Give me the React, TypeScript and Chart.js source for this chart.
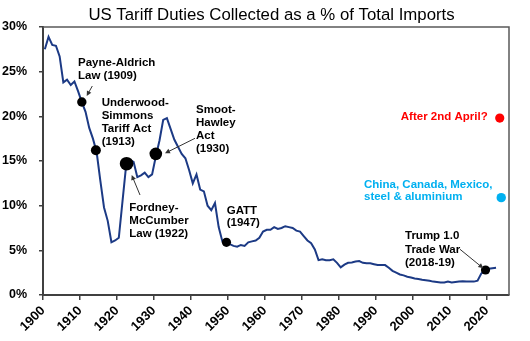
import React, { useEffect, useRef } from 'react';
import { Chart, registerables } from 'chart.js';

Chart.register(...registerables);

const FONT = '"Liberation Sans", Arial, Helvetica, sans-serif';

// ---- data ----
const startYear = 1900;
const tariffPct = [
  27.5, 28.9, 28.0, 27.9, 26.7, 23.8, 24.1, 23.5, 23.9, 22.8,
  21.6, 20.5, 18.7, 17.5, 16.0, 12.8, 9.8, 8.3, 5.9, 6.1,
  6.4, 10.5, 14.6, 15.1, 14.9, 13.2, 13.4, 13.7, 13.2, 13.5,
  15.5, 17.3, 19.6, 19.8, 18.6, 17.4, 16.6, 15.8, 15.3, 14.0,
  12.5, 13.5, 11.8, 11.6, 10.0, 9.5, 10.3, 7.6, 6.0, 5.8,
  5.7, 5.5, 5.4, 5.6, 5.5, 5.9, 6.0, 6.1, 6.4, 7.1,
  7.3, 7.3, 7.6, 7.4, 7.5, 7.7, 7.6, 7.5, 7.2, 7.1,
  6.6, 6.1, 5.8, 5.1, 3.9, 4.0, 3.9, 3.9, 4.0, 3.6,
  3.1, 3.4, 3.6, 3.65, 3.75, 3.8, 3.6, 3.55, 3.55, 3.45,
  3.35, 3.35, 3.35, 3.05, 2.7, 2.5, 2.3, 2.2, 2.05, 1.95,
  1.85, 1.8, 1.7, 1.65, 1.6, 1.5, 1.45, 1.4, 1.4, 1.5,
  1.4, 1.45, 1.5, 1.55, 1.5, 1.5, 1.5, 1.6, 2.4, 2.8,
  2.95, 3.0, 3.05,
];
const years = tariffPct.map((_, i) => startYear + i);

const tickYears = [1900, 1910, 1920, 1930, 1940, 1950, 1960, 1970, 1980, 1990, 2000, 2010, 2020];
const yMax = 30;
const yStep = 5;

// event markers (Payne-Aldrich, Underwood-Simmons, Fordney-McCumber, Smoot-Hawley, GATT, Trump 1.0)
const eventYears = [1910, 1913.8, 1922.1, 1930, 1949.1, 2019.15];
const eventValues = [21.6, 16.2, 14.7, 15.8, 5.9, 2.8];
const eventRadii = [4.7, 5, 6.8, 6.3, 4.6, 4.6];

// scenarios
const aprilYear = [2023];
const aprilValue = [19.8];
const chinaYear = [2023.4];
const chinaValue = [10.9];

const title = 'US Tariff Duties Collected as a % of Total Imports';

type Note = { lines: string[]; x: number; y: number; lh: number; color: string; align: CanvasTextAlign };
const notes: Note[] = [
  { lines: ['Payne-Aldrich', 'Law (1909)'], x: 78, y: 63.3, lh: 12.5, color: '#000', align: 'left' },
  { lines: ['Underwood-', 'Simmons', 'Tariff Act', '(1913)'], x: 101.7, y: 102.7, lh: 13.2, color: '#000', align: 'left' },
  { lines: ['Smoot-', 'Hawley', 'Act', '(1930)'], x: 196, y: 110.3, lh: 12.9, color: '#000', align: 'left' },
  { lines: ['Fordney-', 'McCumber', 'Law (1922)'], x: 129.3, y: 207.7, lh: 13.2, color: '#000', align: 'left' },
  { lines: ['GATT', '(1947)'], x: 226.7, y: 210.7, lh: 12.6, color: '#000', align: 'left' },
  { lines: ['Trump 1.0', 'Trade War', '(2018-19)'], x: 405, y: 236, lh: 13.6, color: '#000', align: 'left' },
  { lines: ['After 2nd April?'], x: 487.7, y: 117.3, lh: 13, color: '#FF0000', align: 'right' },
  { lines: ['China, Canada, Mexico,', 'steel & aluminium'], x: 364, y: 185, lh: 12.3, color: '#00B0F0', align: 'left' },
];

const arrows = [
  [92.3, 86, 86.7, 96],
  [195, 138.3, 165, 153.3],
  [140, 195, 131.7, 175],
  [460, 249.3, 483.3, 268.3],
];

function drawArrow(ctx: CanvasRenderingContext2D, x1: number, y1: number, x2: number, y2: number) {
  const ang = Math.atan2(y2 - y1, x2 - x1);
  const hl = 5;
  const hw = 2.5;
  ctx.beginPath();
  ctx.moveTo(x1, y1);
  ctx.lineTo(x2 - Math.cos(ang) * hl * 0.8, y2 - Math.sin(ang) * hl * 0.8);
  ctx.stroke();
  ctx.beginPath();
  ctx.moveTo(x2, y2);
  ctx.lineTo(x2 - Math.cos(ang) * hl - Math.sin(ang) * hw, y2 - Math.sin(ang) * hl + Math.cos(ang) * hw);
  ctx.lineTo(x2 - Math.cos(ang) * hl + Math.sin(ang) * hw, y2 - Math.sin(ang) * hl - Math.cos(ang) * hw);
  ctx.closePath();
  ctx.fill();
}

const overlay = {
  id: 'overlay',
  afterDraw(chart: any) {
    const ctx: CanvasRenderingContext2D = chart.ctx;
    const a = chart.chartArea;
    ctx.save();
    // frame top/right
    ctx.strokeStyle = '#595959';
    ctx.lineWidth = 1.5;
    ctx.beginPath();
    ctx.moveTo(a.left, a.top);
    ctx.lineTo(a.right, a.top);
    ctx.lineTo(a.right, a.bottom);
    ctx.stroke();
    // title
    ctx.fillStyle = '#000';
    ctx.font = `16.8px ${FONT}`;
    ctx.textAlign = 'center';
    ctx.textBaseline = 'middle';
    ctx.fillText(title, 271.5, 15);
    // notes
    ctx.font = `bold 11.5px ${FONT}`;
    for (const n of notes) {
      ctx.fillStyle = n.color;
      ctx.textAlign = n.align;
      n.lines.forEach((t, i) => ctx.fillText(t, n.x, n.y + i * n.lh));
    }
    // arrows
    ctx.strokeStyle = '#333';
    ctx.fillStyle = '#333';
    ctx.lineWidth = 1;
    for (const [x1, y1, x2, y2] of arrows) drawArrow(ctx, x1, y1, x2, y2);
    ctx.restore();
  },
};

export default function App() {
  const ref = useRef<HTMLCanvasElement>(null);
  useEffect(() => {
    document.body.style.margin = '0';
    const canvas = ref.current!;
    const chart = new Chart(canvas, {
      type: 'line',
      data: {
        datasets: [
          {
            type: 'scatter',
            data: eventYears.map((x, i) => ({ x, y: eventValues[i] })),
            backgroundColor: '#000',
            borderColor: '#000',
            pointRadius: eventRadii,
            borderWidth: 0,
            order: 1,
          } as any,
          {
            type: 'scatter',
            data: aprilYear.map((x, i) => ({ x, y: aprilValue[i] })),
            backgroundColor: '#FF0000',
            borderColor: '#FF0000',
            pointRadius: 4.6,
            borderWidth: 0,
            order: 1,
          } as any,
          {
            type: 'scatter',
            data: chinaYear.map((x, i) => ({ x, y: chinaValue[i] })),
            backgroundColor: '#00B0F0',
            borderColor: '#00B0F0',
            pointRadius: 4.7,
            borderWidth: 0,
            order: 1,
          } as any,
          {
            type: 'line',
            data: years.map((x, i) => ({ x, y: tariffPct[i] })),
            borderColor: '#1C3A85',
            borderWidth: 2,
            pointRadius: 0,
            tension: 0,
            fill: false,
            order: 2,
          } as any,
        ],
      },
      options: {
        responsive: false,
        animation: false,
        devicePixelRatio: 1,
        layout: { padding: { top: 27, right: 21, left: 0, bottom: 0 } },
        plugins: { legend: { display: false }, tooltip: { enabled: false }, title: { display: false } },
        scales: {
          x: {
            type: 'linear',
            min: startYear - 0.5,
            max: 2025.5,
            afterBuildTicks: (s: any) => {
              s.ticks = tickYears.map((y) => ({ value: y - 0.5 }));
            },
            afterFit: (s: any) => {
              s.height = 46;
            },
            ticks: {
              autoSkip: false,
              minRotation: 45,
              maxRotation: 45,
              padding: 3,
              color: '#000',
              font: { family: FONT, size: 13, weight: 'bold' },
              callback: (v: any) => String(Math.round(Number(v) + 0.5)),
            },
            grid: { display: true, drawOnChartArea: false, drawTicks: true, tickLength: 5, color: '#404040', lineWidth: 1.5 },
            border: { display: true, color: '#404040', width: 2 },
          },
          y: {
            type: 'linear',
            min: 0,
            max: yMax,
            afterFit: (s: any) => {
              s.width = 43;
            },
            ticks: {
              stepSize: yStep,
              padding: 12,
              color: '#000',
              font: { family: FONT, size: 12.5, weight: 'bold' },
              callback: (v: any) => `${v}%`,
            },
            grid: { display: true, drawOnChartArea: false, drawTicks: true, tickLength: 4, color: '#404040', lineWidth: 1.5 },
            border: { display: true, color: '#404040', width: 2 },
          },
        },
      } as any,
      plugins: [overlay],
    });
    return () => chart.destroy();
  }, []);
  return (
    <div style={{ width: 530, height: 341 }}>
      <canvas ref={ref} width={530} height={341} style={{ display: 'block' }} />
    </div>
  );
}
